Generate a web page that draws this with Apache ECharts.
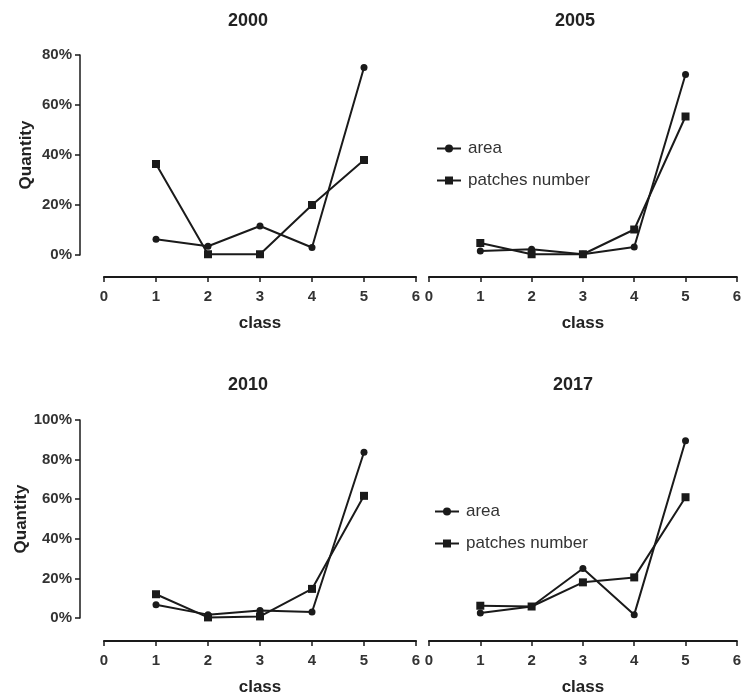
<!DOCTYPE html>
<html>
<head>
<meta charset="utf-8">
<script src="https://cdn.jsdelivr.net/npm/echarts@6/dist/echarts.min.js"></script>
<style>
  html, body { margin: 0; padding: 0; background: #fff; }
  #main { width: 744px; height: 697px; }
</style>
</head>
<body>
<div id="main"></div>
<script>
// class values on the x axis
var classes = [1, 2, 3, 4, 5];
var years = ['2000', '2005', '2010', '2017'];

// percentages
var area2000 = [6.3, 3.5, 11.6, 3, 75];
var patches2000 = [36.4, 0.3, 0.3, 20, 38];
var area2005 = [1.6, 2.3, 0.3, 3.2, 72.2];
var patches2005 = [4.8, 0.3, 0.3, 10.2, 55.4];
var area2010 = [6.7, 1.7, 3.8, 3, 83.7];
var patches2010 = [12, 0.3, 0.8, 14.7, 61.7];
var area2017 = [2.5, 5.8, 25, 1.7, 89.5];
var patches2017 = [6.2, 5.8, 18, 20.5, 61];

var yMax = [80, 80, 100, 100];

var areaData = [area2000, area2005, area2010, area2017];
var patchData = [patches2000, patches2005, patches2010, patches2017];

var font = 'Arial, "Liberation Sans", sans-serif';
var ink = '#1a1a1a';

function pairs(vals) {
    var out = [];
    for (var i = 0; i < classes.length; i++) {
        out.push([classes[i], vals[i]]);
    }
    return out;
}

var chart = echarts.init(document.getElementById('main'));

var grids = [
    { left: 104, top: 55, width: 312, height: 200 },
    { left: 429, top: 55, width: 312, height: 200 },
    { left: 104, top: 420, width: 312, height: 200 },
    { left: 429, top: 420, width: 312, height: 200 }
];
var xOffset = [22, 22, 23, 23];
var titlePos = [[243, 7], [570, 7], [243, 371], [568, 371]];

var titles = [], xAxes = [], yAxes = [], series = [];
for (var k = 0; k < 4; k++) {
    titles.push({
        text: years[k],
        left: titlePos[k][0],
        top: titlePos[k][1],
        textAlign: 'center',
        textStyle: { fontFamily: font, fontSize: 18, fontWeight: 'bold', color: '#222' }
    });
    xAxes.push({
        gridIndex: k,
        type: 'value',
        min: 0,
        max: 6,
        interval: 1,
        offset: xOffset[k],
        name: 'class',
        nameLocation: 'middle',
        nameGap: 38,
        nameTextStyle: { fontFamily: font, fontSize: 17, fontWeight: 'bold', color: '#222' },
        axisLine: { onZero: false, lineStyle: { color: ink, width: 2.2 } },
        axisTick: { show: true, length: 5, lineStyle: { color: ink, width: 1.5 } },
        axisLabel: { fontFamily: font, fontSize: 15, fontWeight: 'bold', color: '#333', margin: 12 },
        splitLine: { show: false }
    });
    var showY = (k === 0 || k === 2);
    yAxes.push({
        gridIndex: k,
        type: 'value',
        min: 0,
        max: yMax[k],
        interval: 20,
        show: showY,
        offset: 24,
        name: 'Quantity',
        nameLocation: 'middle',
        nameGap: 45,
        nameTextStyle: { fontFamily: font, fontSize: 17, fontWeight: 'bold', color: '#222' },
        axisLine: { show: true, onZero: false, lineStyle: { color: ink, width: 1.5 } },
        axisTick: { show: true, length: 5, lineStyle: { color: ink, width: 1.5 } },
        axisLabel: { fontFamily: font, fontSize: 15, fontWeight: 'bold', color: '#333', formatter: '{value}%', margin: 8 },
        splitLine: { show: false }
    });
    series.push({
        name: 'area',
        type: 'line',
        xAxisIndex: k,
        yAxisIndex: k,
        symbol: 'circle',
        symbolSize: 7,
        lineStyle: { color: ink, width: 2 },
        itemStyle: { color: ink },
        data: pairs(areaData[k])
    });
    series.push({
        name: 'patches number',
        type: 'line',
        xAxisIndex: k,
        yAxisIndex: k,
        symbol: 'rect',
        symbolSize: 8,
        lineStyle: { color: ink, width: 2 },
        itemStyle: { color: ink },
        data: pairs(patchData[k])
    });
}

var legendStyle = {
    orient: 'vertical',
    itemWidth: 24,
    itemHeight: 10,
    itemGap: 15,
    data: ['area', 'patches number'],
    textStyle: { fontFamily: font, fontSize: 17, color: '#333', padding: [0, 0, 0, 2] }
};

chart.setOption({
    animation: false,
    backgroundColor: '#fff',
    title: titles,
    legend: [
        Object.assign({ left: 431, top: 135 }, legendStyle),
        Object.assign({ left: 429, top: 498 }, legendStyle)
    ],
    grid: grids,
    xAxis: xAxes,
    yAxis: yAxes,
    series: series
});
</script>
</body>
</html>
